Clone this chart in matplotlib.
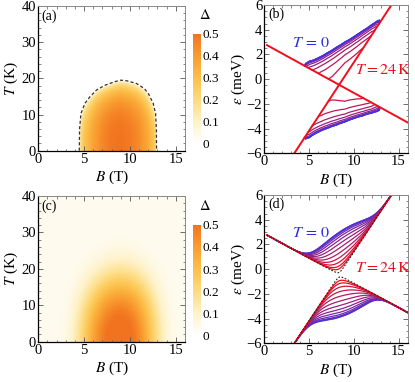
import numpy as np
import matplotlib
matplotlib.use('Agg')
import matplotlib.pyplot as plt
from matplotlib.colors import LinearSegmentedColormap
from matplotlib.ticker import MultipleLocator

plt.rcParams['font.family'] = ['Liberation Serif', 'DejaVu Serif']
plt.rcParams['mathtext.fontset'] = 'stix'
plt.rcParams['font.size'] = 10

# niveaux sans gap : deux points lus sur chaque droite rouge de (b)  (B en T, eps en meV)
niv1_B = [0.3, 16.0]
niv1_eps = [2.75, -3.5]
niv2_B = [3.35, 14.2]
niv2_eps = [-6.0, 6.0]

dome_B = [4.47, 4.50, 4.65, 5.09, 5.63, 6.36, 7.27, 8.36, 9.0, 9.7, 10.7, 11.55, 11.98, 12.53, 12.79, 12.88, 12.9]
dome_Tc = [0.0, 6.0, 10.3, 13.1, 14.9, 16.8, 18.1, 19.1, 19.5, 19.3, 18.6, 17.2, 15.9, 13.1, 10.3, 6.0, 0.0]

gap0_B = [4.47, 4.6, 5.0, 6.0, 7.0, 8.0, 9.0, 10.0, 11.0, 12.0, 12.6, 12.9]
gap0 = [0.0, 0.18, 0.28, 0.38, 0.45, 0.49, 0.5, 0.48, 0.44, 0.36, 0.28, 0.2]

# gap residuel (c) et ecart des pointilles de (d)
gap_fond = 0.03
kappa = 6.4          # meV par unite de Delta
T_courbes = np.arange(0, 25, 2)   # K
T_max_b = 18

couleurs_cmap = ['#ffffff', '#fef2c8', '#fddb80', '#fcc04a', '#f99d30', '#f2731f']
bleu = np.array([0.25, 0.2, 0.9])
rouge = np.array([0.95, 0.05, 0.1])

cmap = LinearSegmentedColormap.from_list('gap', couleurs_cmap)

# grilles
B = np.linspace(0, 16, 641)
T = np.linspace(0, 40, 401)
Bc = np.linspace(0.3, 16, 1000)

# carte du gap champ moyen
Tc = np.interp(B, dome_B, dome_Tc, left=0, right=0)
D0 = np.interp(B, gap0_B, gap0, left=0, right=0)
r = Tc[None, :] / np.maximum(T[:, None], 1e-6)
D = np.where(r > 1, D0[None, :] * np.tanh(1.74 * np.sqrt(np.clip(r - 1, 0, None))), 0.0)


def lisse(Z, sB, sT):
    # flou gaussien separable, miroir en T = 0
    dB = B[1] - B[0]
    dT = T[1] - T[0]
    nB = int(4 * sB / dB)
    nT = int(4 * sT / dT)
    kB = np.exp(-0.5 * (np.arange(-nB, nB + 1) * dB / sB) ** 2)
    kT = np.exp(-0.5 * (np.arange(-nT, nT + 1) * dT / sT) ** 2)
    kB /= kB.sum()
    kT /= kT.sum()
    Zp = np.pad(Z, ((0, 0), (nB, nB)), mode='edge')
    Z = np.array([np.convolve(l, kB, mode='valid') for l in Zp])
    Zp = np.pad(Z, ((nT, nT), (0, 0)), mode='reflect')
    Z = np.array([np.convolve(c, kT, mode='valid') for c in Zp.T]).T
    return Z


Ds = np.sqrt(gap_fond ** 2 + (1.2 * lisse(D, 1.4, 6.5)) ** 2)

# niveaux
p1 = np.polyfit(niv1_B, niv1_eps, 1)
p2 = np.polyfit(niv2_B, niv2_eps, 1)
e1 = np.polyval(p1, Bc)
e2 = np.polyval(p2, Bc)
m = (e1 + e2) / 2
d = (e1 - e2) / 2


def couleur(t):
    f = t / T_courbes[-1]
    return tuple((1 - f) * bleu + f * rouge)


fig = plt.figure(figsize=(4.15, 3.82), dpi=100)
W, H = 415, 382


def place(x0, y0, x1, y1):
    return fig.add_axes([x0 / W, 1 - y1 / H, (x1 - x0) / W, (y1 - y0) / H])


def cadre(ax):
    for s in ['top', 'right']:
        ax.spines[s].set_color('#888888')
        ax.spines[s].set_linewidth(0.7)
    for s in ['left', 'bottom']:
        ax.spines[s].set_color('black')
        ax.spines[s].set_linewidth(0.9)
    ax.tick_params(which='both', direction='in', top=True, right=True, color='#555555', labelsize=10.5, pad=1.5)
    ax.tick_params(which='major', length=3.5, width=0.6)
    ax.tick_params(which='minor', length=1.8, width=0.5)
    ax.set_xlim(0, 16)
    ax.xaxis.set_major_locator(MultipleLocator(5))
    ax.xaxis.set_minor_locator(MultipleLocator(1))
    ax.set_xlabel('$B$ (T)', fontsize=11, labelpad=2)


# (a) et (c) : cartes
for (y0, y1, Z, lab, cy0) in [(6, 150.7, D, '(a)', 34), (196, 341.7, Ds, '(c)', 225)]:
    ax = place(38.3, y0, 185, y1)
    im = ax.imshow(Z, extent=[0, 16, 0, 40], origin='lower', aspect='auto', cmap=cmap,
                   vmin=0, vmax=0.5, interpolation='bilinear')
    if lab == '(a)':
        ax.plot(dome_B, dome_Tc, color='#333333', lw=0.9, ls=(0, (2.5, 1.8)))
    cadre(ax)
    ax.set_ylim(0, 40)
    ax.yaxis.set_major_locator(MultipleLocator(10))
    ax.yaxis.set_minor_locator(MultipleLocator(2))
    ax.set_ylabel('$T$ (K)', fontsize=11, labelpad=1)
    ax.text(0.02, 0.975, lab, transform=ax.transAxes, va='top', ha='left', fontsize=10)
    cax = place(193.3, cy0, 200.7, cy0 + 110)
    cb = fig.colorbar(im, cax=cax, ticks=[0, 0.1, 0.2, 0.3, 0.4, 0.5])
    cb.ax.set_yticklabels(['0', '0.1', '0.2', '0.3', '0.4', '0.5'])
    cb.ax.tick_params(length=0, labelsize=9.5, pad=1.5)
    cb.outline.set_visible(False)
    fig.text(205 / W, 1 - (cy0 - 19) / H, r'$\Delta$', ha='center', va='center', fontsize=10.5)

# (b) et (d) : niveaux
for (y0, y1, lab, lisse_) in [(5, 153.3, '(b)', False), (195, 343.3, '(d)', True)]:
    ax = place(264.3, y0, 407.5, y1)
    if not lisse_:
        for t in T_courbes[T_courbes <= T_max_b][::-1]:
            g = kappa * np.interp(Bc, B, D[int(round(t * 10))])
            haut = np.where(g > 0, m + np.sqrt(d ** 2 + g ** 2), np.nan)
            bas = np.where(g > 0, m - np.sqrt(d ** 2 + g ** 2), np.nan)
            ax.plot(Bc, haut, color=couleur(t), lw=0.9)
            ax.plot(Bc, bas, color=couleur(t), lw=0.9)
        ax.plot(Bc, e1, color=rouge, lw=1.4)
        ax.plot(Bc, e2, color=rouge, lw=1.4)
    else:
        for t in T_courbes:
            g = kappa * np.interp(Bc, B, Ds[int(round(t * 10))])
            ax.plot(Bc, m + np.sqrt(d ** 2 + g ** 2), color=couleur(t), lw=0.9)
            ax.plot(Bc, m - np.sqrt(d ** 2 + g ** 2), color=couleur(t), lw=0.9)
        gf = kappa * gap_fond
        ax.plot(Bc, m + np.sqrt(d ** 2 + gf ** 2), color='#222222', lw=0.8, ls=(0, (1.5, 1.5)))
        ax.plot(Bc, m - np.sqrt(d ** 2 + gf ** 2), color='#222222', lw=0.8, ls=(0, (1.5, 1.5)))
    cadre(ax)
    ax.set_ylim(-6, 6)
    ax.yaxis.set_minor_locator(MultipleLocator(0.5))
    ax.set_yticks([-6, -4, -2, 0, 2, 4, 6])
    ax.set_yticklabels(['\u22126', '\u22124', '\u22122', '0', '2', '4', '6'])
    ax.set_ylabel(r'$\epsilon$ (meV)', fontsize=11, labelpad=0)
    ax.text(0.025, 0.98, lab, transform=ax.transAxes, va='top', ha='left', fontsize=10)
    ty = 2.95 if lab == '(b)' else 2.9
    ax.text(5.25, ty, r'$T\,=\,0$', color='#2a2ae0', ha='center', va='center', fontsize=11.5)
    ry = 0.7 if lab == '(b)' else 0.12
    ax.text(13.25, ry, r'$T = 24\,\mathrm{K}$', color='#e8101a', ha='center', va='center', fontsize=11.5)

fig.savefig('out.png', dpi=100)
